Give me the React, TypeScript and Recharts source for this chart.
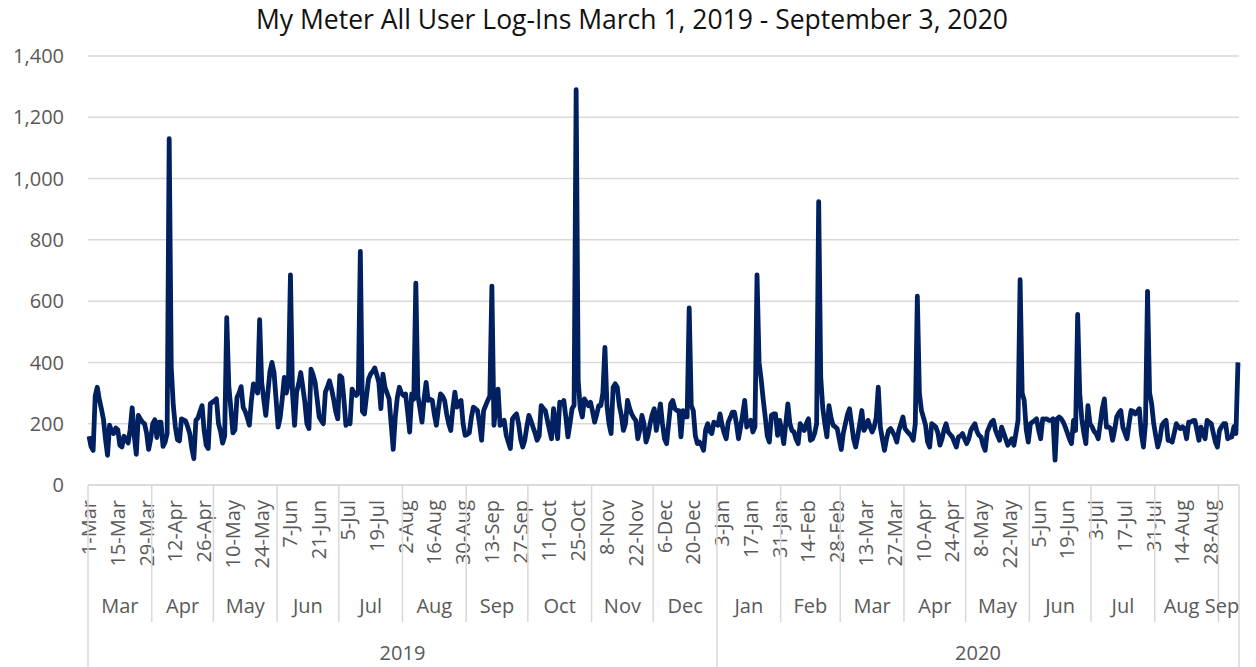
import { LineChart, Line, XAxis, YAxis, CartesianGrid } from "recharts";

// daily log-ins, one array per month
const mar19 = [159, 125, 113, 290, 319, 280, 249, 215, 150, 97, 195, 175, 168, 186, 180, 130, 124, 159, 150, 137, 180, 252, 160, 100, 227, 215, 205, 200, 170, 116, 150];
const apr19 = [200, 213, 155, 205, 205, 126, 140, 168, 1130, 384, 260, 190, 148, 144, 216, 212, 209, 190, 168, 120, 86, 211, 219, 240, 259, 178, 130, 119, 265, 270];
const may19 = [275, 281, 200, 175, 137, 160, 546, 324, 250, 170, 180, 286, 300, 321, 254, 240, 220, 195, 276, 330, 320, 300, 540, 335, 280, 227, 300, 370, 400, 367, 280];
const jun19 = [189, 220, 281, 351, 300, 330, 686, 300, 195, 303, 330, 367, 320, 270, 200, 184, 378, 360, 335, 280, 222, 210, 200, 303, 320, 340, 313, 280, 240, 216];
const jul19 = [357, 351, 280, 195, 210, 200, 313, 300, 292, 300, 762, 240, 232, 290, 346, 362, 370, 382, 360, 335, 249, 362, 319, 300, 281, 200, 116, 220, 286, 319, 300];
const aug19 = [292, 297, 240, 173, 297, 280, 659, 292, 250, 205, 280, 335, 276, 280, 276, 230, 195, 250, 297, 290, 276, 232, 200, 178, 250, 303, 254, 270, 276, 200, 162];
const sep19 = [165, 170, 220, 254, 249, 243, 200, 146, 243, 260, 276, 290, 649, 195, 260, 313, 195, 200, 211, 162, 140, 119, 216, 225, 232, 200, 150, 124, 146, 190];
const oct19 = [227, 210, 189, 170, 146, 160, 259, 250, 243, 211, 180, 151, 249, 200, 151, 270, 265, 276, 220, 157, 200, 249, 260, 1290, 340, 250, 222, 281, 270, 259, 270];
const nov19 = [240, 205, 230, 259, 259, 300, 449, 259, 200, 168, 319, 330, 319, 260, 227, 178, 200, 276, 250, 232, 220, 211, 151, 180, 227, 200, 140, 162, 200, 230];
const dec19 = [249, 178, 220, 265, 200, 150, 135, 200, 265, 276, 249, 243, 243, 157, 243, 222, 222, 578, 260, 243, 160, 135, 140, 130, 113, 180, 200, 175, 168, 205, 200];
const jan20 = [195, 232, 195, 170, 151, 205, 220, 238, 238, 200, 151, 189, 230, 276, 189, 200, 211, 173, 190, 686, 400, 346, 280, 222, 160, 140, 227, 232, 232, 162, 211];
const feb20 = [180, 135, 200, 265, 200, 178, 173, 150, 135, 200, 190, 178, 200, 216, 146, 150, 168, 200, 925, 351, 250, 200, 157, 259, 220, 195, 190, 184, 150];
const mar20 = [116, 170, 200, 230, 249, 200, 150, 124, 160, 200, 243, 178, 190, 211, 190, 173, 189, 220, 319, 189, 150, 113, 150, 178, 184, 173, 160, 140, 178, 200, 222];
const apr20 = [184, 175, 168, 160, 146, 200, 616, 300, 243, 220, 195, 140, 124, 200, 195, 189, 170, 130, 150, 180, 200, 173, 165, 157, 140, 124, 157, 160, 168, 150];
const may20 = [135, 150, 178, 190, 200, 175, 162, 157, 130, 113, 173, 190, 205, 211, 180, 162, 146, 189, 170, 150, 130, 140, 151, 130, 170, 211, 670, 300, 276, 180, 140];
const jun20 = [200, 205, 210, 216, 180, 151, 216, 215, 216, 211, 211, 216, 81, 216, 222, 216, 205, 189, 170, 150, 135, 211, 178, 557, 300, 216, 170, 135, 259, 200];
const jul20 = [190, 175, 168, 151, 200, 250, 281, 189, 190, 184, 146, 180, 222, 235, 243, 189, 170, 151, 200, 243, 240, 232, 240, 249, 168, 124, 200, 632, 300, 265, 200];
const aug20 = [160, 124, 150, 195, 205, 211, 146, 145, 140, 170, 200, 190, 184, 190, 184, 151, 205, 205, 210, 211, 180, 146, 189, 170, 151, 211, 205, 200, 170, 140, 124];
const sep20 = [178, 190, 200, 200, 151, 155, 157, 190, 168, 400];

const monthValues = [mar19, apr19, may19, jun19, jul19, aug19, sep19, oct19, nov19, dec19, jan20, feb20, mar20, apr20, may20, jun20, jul20, aug20, sep20];
const monthNames = ["Mar", "Apr", "May", "Jun", "Jul", "Aug", "Sep", "Oct", "Nov", "Dec", "Jan", "Feb", "Mar", "Apr", "May", "Jun", "Jul", "Aug", "Sep"];
const yearNames = ["2019", "2020"];
const monthsPerYear = [10, 9];

const dayLabels = ["1-Mar", "15-Mar", "29-Mar", "12-Apr", "26-Apr", "10-May", "24-May", "7-Jun", "21-Jun", "5-Jul", "19-Jul", "2-Aug", "16-Aug", "30-Aug", "13-Sep", "27-Sep", "11-Oct", "25-Oct", "8-Nov", "22-Nov", "6-Dec", "20-Dec", "3-Jan", "17-Jan", "31-Jan", "14-Feb", "28-Feb", "13-Mar", "27-Mar", "10-Apr", "24-Apr", "8-May", "22-May", "5-Jun", "19-Jun", "3-Jul", "17-Jul", "31-Jul", "14-Aug", "28-Aug"];
const LABEL_STEP = 14;
const yTicks = [0, 200, 400, 600, 800, 1000, 1200, 1400];

const data = monthValues.flat().map((v, i) => ({ i, v }));
const total = data.length;

const monthStarts: number[] = [];
let acc = 0;
monthValues.forEach((m) => {
  monthStarts.push(acc);
  acc += m.length;
});
const monthBounds = [...monthStarts.map((s) => s - 0.5), total - 0.5];
const monthMids = monthValues.map((m, k) => monthStarts[k] + m.length / 2 - 0.5);

const yearBounds = [-0.5, monthStarts[monthsPerYear[0]] - 0.5, total - 0.5];
const yearMids = yearNames.map((_, k) => (yearBounds[k] + yearBounds[k + 1]) / 2);
const dayTicks = dayLabels.map((_, k) => k * LABEL_STEP);

const GRID = "#d9d9d9";
const TEXT = "#595959";
const FONT = "'Open Sans', sans-serif";
const PLOT_BOTTOM = 485;
const PLOT_RIGHT = 1239;

const DayTick = ({ x, payload }: any) => (
  <text
    x={x}
    y={500}
    dy="0.35em"
    textAnchor="end"
    transform={`rotate(-90, ${x}, 500)`}
    fontSize={20}
    fontFamily={FONT}
    fill={TEXT}
  >
    {dayLabels[Math.round(payload.value / LABEL_STEP)]}
  </text>
);

const BoundTick = ({ x, payload }: any) => {
  const isYear = yearBounds.includes(payload.value);
  return <line x1={x} x2={x} y1={PLOT_BOTTOM} y2={isYear ? 667 : 622} stroke={GRID} strokeWidth={1.5} />;
};

const MonthTick = ({ x, payload }: any) => {
  const k = monthMids.indexOf(payload.value);
  const last = monthNames.length - 1;
  // the last group is narrow: keep its label inside the plot and nudge the one before
  const cx = k === last ? Math.min(x, PLOT_RIGHT - 17) : k === last - 1 ? x - 5 : x;
  return (
    <text x={cx} y={613} textAnchor="middle" fontSize={20} fontFamily={FONT} fill={TEXT}>
      {monthNames[k]}
    </text>
  );
};

const YearTick = ({ x, payload }: any) => {
  const k = yearMids.indexOf(payload.value);
  return (
    <text x={x} y={660} textAnchor="middle" fontSize={20} fontFamily={FONT} fill={TEXT}>
      {yearNames[k]}
    </text>
  );
};

const domain: [number, number] = [-0.5, total - 0.5];

export default function App() {
  return (
    <div style={{ position: "relative", width: 1256, height: 667, background: "#fff", fontFamily: FONT }}>
      <style>{"body{margin:0}"}</style>
      <div
        style={{
          position: "absolute",
          top: 1,
          left: 4,
          width: 1256,
          textAlign: "center",
          fontSize: 26.5,
          color: "#111",
          whiteSpace: "nowrap",
        }}
      >
        My Meter All User Log-Ins March 1, 2019 - September 3, 2020
      </div>
      <LineChart width={1256} height={667} data={data} margin={{ top: 56, right: 17, bottom: 0, left: 8 }}>
        <CartesianGrid vertical={false} stroke={GRID} strokeWidth={1.5} />
        <XAxis
          dataKey="i"
          type="number"
          domain={domain}
          ticks={dayTicks}
          interval={0}
          tick={DayTick}
          tickLine={false}
          axisLine={{ stroke: GRID, strokeWidth: 1.5 }}
          height={179}
        />
        <XAxis xAxisId="b" dataKey="i" type="number" domain={domain} ticks={monthBounds.concat(yearBounds.filter((b) => !monthBounds.includes(b)))} interval={0} tick={BoundTick} tickLine={false} axisLine={false} height={1} />
        <XAxis xAxisId="m" dataKey="i" type="number" domain={domain} ticks={monthMids} interval={0} tick={MonthTick} tickLine={false} axisLine={false} height={1} />
        <XAxis xAxisId="y" dataKey="i" type="number" domain={domain} ticks={yearMids} interval={0} tick={YearTick} tickLine={false} axisLine={false} height={1} />
        <YAxis
          domain={[0, 1400]}
          ticks={yTicks}
          interval={0}
          width={80}
          axisLine={false}
          tickLine={false}
          tickSize={0}
          tickMargin={24}
          tick={{ fill: TEXT, fontSize: 20, fontFamily: FONT }}
          tickFormatter={(v: number) => v.toLocaleString("en-US")}
        />
        <Line
          type="linear"
          dataKey="v"
          stroke="#002060"
          strokeWidth={4.8}
          strokeLinejoin="round"
          dot={false}
          isAnimationActive={false}
        />
      </LineChart>
    </div>
  );
}
